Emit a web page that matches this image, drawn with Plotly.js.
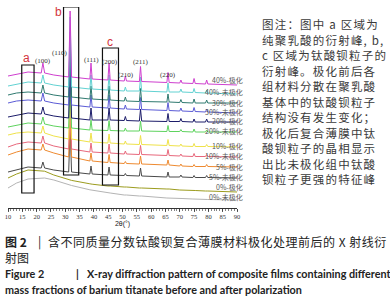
<!DOCTYPE html>
<html>
<head>
<meta charset="utf-8">
<script src="https://cdn.plot.ly/plotly-3.0.1.min.js"></script>
<style>
html,body{margin:0;padding:0;background:#fff;}
#chart{width:390px;height:300px;}
</style>
</head>
<body>
<div id="chart"></div>
<script>
// ---- DATA ----
const twoTheta = [10, 13, 17, 21.6, 22.2, 22.8, 26, 31.2, 31.7, 32.2, 38.6, 39.0, 39.4, 44.9, 45.3, 45.7, 50.6, 51.0, 51.4, 55.9, 56.3, 56.7, 65.5, 65.9, 66.3, 70.0, 70.4, 70.8, 74.6, 75.0, 75.4, 79.0, 79.4, 79.8, 90];

const seriesNames = ['40%-极化', '40%-未极化', '30%-极化', '30%-未极化', '20%-极化', '20%-未极化',
                     '10%-极化', '10%-未极化', '5%-极化', '5%-未极化', '0%-极化', '0%-未极化'];

const pct40Poled   = [132, 134, 136, 135, 145, 135, 133, 131, 197, 131, 129, 145, 129, 128, 145, 128, 127, 132, 127, 126.5, 141.5, 126.5, 125.5, 135.5, 125.5, 125, 128, 125, 124.5, 129.5, 124.5, 124, 128, 124, 123];
const pct40Unpoled = [122, 124, 126, 125, 133, 125, 123, 121, 191, 121, 119, 133, 119, 118, 133, 118, 117, 121, 117, 117, 131, 117, 116, 125, 116, 116, 119, 116, 115.5, 119.5, 115.5, 115, 118, 115, 114];
const pct30Poled   = [113, 115, 116, 115, 123, 115, 113, 111, 176, 111, 109, 122, 109, 108, 122, 108, 107, 111, 107, 106.5, 119.5, 106.5, 106, 114, 106, 105.5, 108.5, 105.5, 105, 109, 105, 105, 108, 105, 105];
const pct30Unpoled = [105, 107, 108, 107, 115, 107, 105, 103, 163, 103, 101, 113, 101, 100, 113, 100, 99, 103, 99, 98.5, 110.5, 98.5, 97.5, 105.5, 97.5, 97, 100, 97, 96.5, 100.5, 96.5, 96, 99, 96, 95];
const pct20Poled   = [91, 93, 95, 94, 101, 94, 92, 90, 145, 90, 88, 100, 88, 88, 100, 88, 87.5, 91.5, 87.5, 87, 99, 87, 86.5, 94.5, 86.5, 86.5, 89.5, 86.5, 86, 89, 86, 86, 89, 86, 86];
const pct20Unpoled = [81, 83, 85, 84, 91, 84, 82, 80, 130, 80, 78, 88, 78, 77.5, 87.5, 77.5, 77, 80, 77, 77, 87, 77, 76.5, 82.5, 76.5, 76.5, 78.5, 76.5, 76, 79, 76, 76, 78, 76, 76];
const pct10Poled   = [73, 75, 76, 75, 82, 75, 72, 69, 119, 69, 66, 75, 66, 65, 74, 65, 64, 67, 64, 63.5, 72.5, 63.5, 62.5, 68.5, 62.5, 62, 64, 62, 61.5, 64.5, 61.5, 61.5, 63.5, 61.5, 61];
const pct10Unpoled = [61, 64, 66, 65, 72, 65, 62, 59, 104, 59, 56, 65, 56, 55, 64, 55, 54, 57, 54, 53.5, 62.5, 53.5, 52.5, 58.5, 52.5, 52, 54, 52, 51.5, 54.5, 51.5, 51.5, 53.5, 51.5, 51];
const pct5Poled    = [53, 56, 59, 58, 64, 58, 55, 51, 91, 51, 47, 55, 47, 45.5, 53.5, 45.5, 44.5, 46.5, 44.5, 44, 52, 44, 43, 48, 43, 42, 44, 42, 41.5, 43.5, 41.5, 41.5, 43.5, 41.5, 41];
const pct5Unpoled  = [36, 38, 41, 40, 46, 40, 38, 36, 81, 36, 34, 42, 34, 33, 41, 33, 32.5, 34.5, 32.5, 32, 40, 32, 31, 36, 31, 31, 33, 31, 30.5, 32.5, 30.5, 30.5, 32.5, 30.5, 30];
const pct0Poled    = [30, 34, 38, 37.2, 37, 36.8, 33, 28.4, 28, 27.6, 24.2, 24, 23.8, 22, 22, 22, 21, 21, 21, 20, 20, 20, 19, 19, 19, 18, 18, 18, 17.5, 17.5, 17.5, 17, 17, 17, 16];
const pct0Unpoled  = [20, 25, 29, 30, 30, 30, 28, 23.5, 23, 22.5, 18.2, 18, 17.8, 15, 15, 15, 13, 13, 13, 12, 12, 12, 10, 10, 10, 9.5, 9.5, 9.5, 9, 9, 9, 8.5, 8.5, 8.5, 8];

const peakLabels = ['(100)', '(110)', '(111)', '(200)', '(210)', '(211)', '(220)'];
const regionLabels = ['a', 'b', 'c'];

const tickValues = [10, 15, 20, 25, 30, 35, 40, 45, 50, 55, 60, 65, 70, 75, 80, 85, 90];

const noteLines = ['图注：图中 a 区域为', '纯聚乳酸的衍射峰, b,', 'c 区域为钛酸钡粒子的', '衍射峰。极化前后各',
  '组材料分散在聚乳酸', '基体中的钛酸钡粒子', '结构没有发生变化；', '极化后复合薄膜中钛',
  '酸钡粒子的晶相显示', '出比未极化组中钛酸', '钡粒子更强的特征峰'];

const captionCnLabel = '图 2';
const captionCn1 = '含不同质量分数钛酸钡复合薄膜材料极化处理前后的 X 射线衍';
const captionCn2 = '射图';
const captionEnLabel = 'Figure 2';
const captionEn1 = 'X-ray diffraction pattern of composite films containing different';
const captionEn2 = 'mass fractions of barium titanate before and after polarization';

// ---- STYLE / LAYOUT ----
const seriesData = [pct40Poled, pct40Unpoled, pct30Poled, pct30Unpoled, pct20Poled, pct20Unpoled,
                    pct10Poled, pct10Unpoled, pct5Poled, pct5Unpoled, pct0Poled, pct0Unpoled];
const colors = ['#cf3fcf', '#62d2d2', '#2f7a70', '#5b5bd6', '#1c1c6a', '#5fd35f',
                '#efe24a', '#e8687c', '#ee8a30', '#4a4a4a', '#9c9c1e', '#b4b4b4'];

const traces = [];
for (let i = seriesData.length - 1; i >= 0; i--) {
  traces.push({
    type: 'scatter', mode: 'lines', name: seriesNames[i],
    x: twoTheta, y: seriesData[i],
    line: {color: colors[i], width: 1},
    hoverinfo: 'skip'
  });
}

// plot area in pixels: x 8..237, y 7..208
const px2paperX = px => (px - 8) / 229;
const py2paperY = py => (208 - py) / 201;

const annotations = [];
const peakLabelX = [22.4, 28.2, 39.0, 45.7, 51.3, 56.5, 66.0];
const peakLabelY = [147, 155, 148, 146, 133, 146, 133];
peakLabels.forEach((t, i) => annotations.push({
  text: t, x: peakLabelX[i], y: peakLabelY[i], xref: 'x', yref: 'y', showarrow: false,
  font: {family: 'Liberation Serif', size: 7, color: '#333'}
}));
const regionX = [16.6, 27.6, 45.6];
const regionY = [150, 196, 166];
regionLabels.forEach((t, i) => annotations.push({
  text: t, x: regionX[i], y: regionY[i], xref: 'x', yref: 'y', showarrow: false,
  font: {family: 'Liberation Sans', size: 12, color: '#d3343c'}
}));
const seriesLabelY = [128, 116, 105, 96, 87, 77, 62, 52, 41, 31, 21, 11];
seriesNames.forEach((t, i) => annotations.push({
  text: t, x: px2paperX(245), y: seriesLabelY[i], xref: 'paper', yref: 'y',
  xanchor: 'right', yanchor: 'middle', showarrow: false,
  font: {family: 'Noto Sans CJK SC', size: 7, color: '#555'}
}));
noteLines.forEach((t, i) => annotations.push({
  text: '<span style="letter-spacing:1.2px">' + t + '</span>',
  x: px2paperX(260), y: py2paperY(24 + 15.5 * i), xref: 'paper', yref: 'paper',
  xanchor: 'left', yanchor: 'middle', showarrow: false,
  font: {family: 'Noto Sans CJK SC', size: 11.5, color: '#3a3a3a'}
}));
const capFontCn = {family: 'Noto Sans CJK SC', size: 12, color: '#222'};
const capFontCnB = {family: 'Noto Sans CJK SC', size: 12, color: '#222', weight: 'bold'};
const capFontEn = {family: 'Lato', size: 10.8, color: '#222', weight: 'bold'};
function cap(text, px, py, font) {
  annotations.push({text: text, x: px2paperX(px), y: py2paperY(py), xref: 'paper', yref: 'paper',
    xanchor: 'left', yanchor: 'middle', showarrow: false, font: font, borderpad: 0});
}
cap(captionCnLabel, 4, 241, capFontCnB);
cap('|', 37, 241, capFontCn);
cap('<span style="letter-spacing:0.5px">' + captionCn1 + '</span>', 47, 241, capFontCn);
cap(captionCn2, 4, 257, capFontCn);
cap(captionEnLabel, 4, 273, capFontEn);
cap('|', 75, 273, capFontEn);
cap(captionEn1, 86, 273, capFontEn);
cap(captionEn2, 4, 289, capFontEn);

const boxLine = {color: '#111', width: 1.2};
const shapes = [
  {type: 'rect', xref: 'x', yref: 'y', x0: 14.8, x1: 19.1, y0: 15, y1: 143, line: boxLine},
  {type: 'rect', xref: 'x', yref: 'y', x0: 29.4, x1: 34.7, y0: 33, y1: 201, line: boxLine},
  {type: 'rect', xref: 'x', yref: 'y', x0: 43.0, x1: 48.6, y0: 23, y1: 160, line: boxLine}
];

const layout = {
  width: 390, height: 300,
  margin: {l: 8, r: 153, t: 7, b: 92, pad: 0},
  paper_bgcolor: '#fff', plot_bgcolor: '#fff',
  showlegend: false,
  xaxis: {
    range: [10, 90], tickmode: 'array', tickvals: tickValues, ticktext: tickValues.map(String),
    ticks: 'outside', ticklen: 3, tickwidth: 0.8, tickcolor: '#333',
    minor: {dtick: 1, tick0: 10, ticks: 'outside', ticklen: 1.5, tickwidth: 0.6, tickcolor: '#333', showgrid: false},
    showline: true, linecolor: '#333', linewidth: 1, showgrid: false, zeroline: false,
    tickfont: {family: 'Liberation Serif', size: 6.5, color: '#333'},
    ticklabelstandoff: -1,
    title: {text: '2θ(°)', font: {family: 'Liberation Sans', size: 7, color: '#222'}, standoff: 1},
    automargin: false, fixedrange: true
  },
  yaxis: {range: [0, 201], visible: false, fixedrange: true},
  shapes: shapes,
  annotations: annotations
};

Plotly.newPlot('chart', traces, layout, {staticPlot: true, displayModeBar: false});
</script>
</body>
</html>
